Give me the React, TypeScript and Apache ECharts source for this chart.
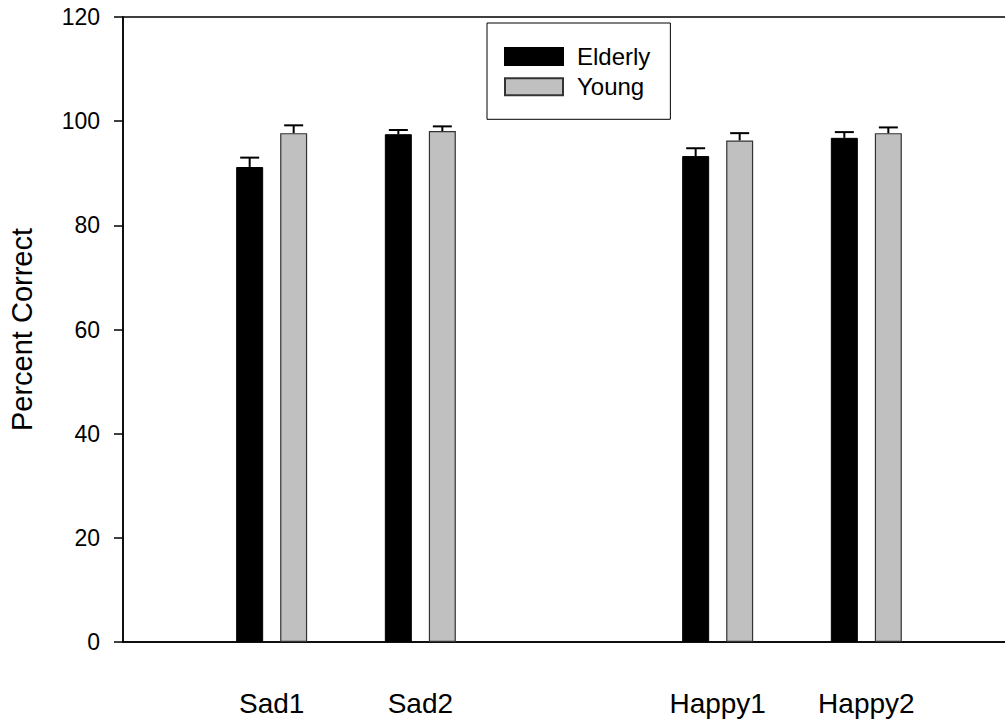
import React, { useEffect, useRef } from "react";
import * as echarts from "echarts";

const categories = ["", "Sad1", "Sad2", "", "Happy1", "Happy2", ""];
const elderly: (number | null)[] = [null, 91.2, 97.5, null, 93.3, 96.8, null];
const elderlyErr: (number | null)[] = [null, 1.8, 0.8, null, 1.5, 1.1, null];
const young: (number | null)[] = [null, 97.7, 98.1, null, 96.3, 97.7, null];
const youngErr: (number | null)[] = [null, 1.5, 0.9, null, 1.4, 1.1, null];
const yMin = 0;
const yMax = 120;
const yStep = 20;

const FONT = "'Liberation Sans', Arial, sans-serif";
const BAR_W = 27;
const BAR_GAP_PX = 17;
const OFFSET = (BAR_W + BAR_GAP_PX) / 2;

function errData(vals: (number | null)[], errs: (number | null)[]) {
  const out: number[][] = [];
  vals.forEach((v, i) => {
    if (v != null && errs[i] != null) out.push([i, v, errs[i] as number]);
  });
  return out;
}

function makeErrRender(offset: number) {
  return (params: any, api: any) => {
    const idx = api.value(0);
    const v = api.value(1);
    const e = api.value(2);
    const base = api.coord([idx, v]);
    const top = api.coord([idx, v + e]);
    const x = base[0] + offset;
    const st = { stroke: "#000", lineWidth: 2 };
    return {
      type: "group",
      children: [
        { type: "line", shape: { x1: x, y1: base[1], x2: x, y2: top[1] }, style: st },
        { type: "line", shape: { x1: x - 9.5, y1: top[1], x2: x + 9.5, y2: top[1] }, style: st },
      ],
    };
  };
}

export default function App() {
  const ref = useRef<HTMLDivElement>(null);
  useEffect(() => {
    if (!ref.current) return;
    const chart = echarts.init(ref.current, null, { renderer: "svg" });
    chart.setOption({
      animation: false,
      backgroundColor: "#fff",
      textStyle: { fontFamily: FONT },
      grid: {
        left: 123,
        width: 892,
        top: 17,
        bottom: 79,
        outerBoundsMode: "none",
        containLabel: false,
        show: true,
        borderColor: "#000",
        borderWidth: 1.5,
        backgroundColor: "transparent",
      },
      legend: {
        orient: "vertical",
        left: 487,
        top: 23,
        padding: [21.5, 20, 20.5, 17],
        itemWidth: 58,
        itemHeight: 17,
        itemGap: 6.3,
        borderColor: "#000",
        borderWidth: 1,
        icon: "rect",
        textStyle: { fontSize: 24, lineHeight: 17, color: "#000", fontFamily: FONT, padding: [0, 0, 0, 9] },
        data: ["Elderly", "Young"],
      },
      xAxis: {
        type: "category",
        data: categories,
        boundaryGap: false,
        axisLine: { lineStyle: { color: "#000", width: 1.5 } },
        axisTick: { show: false },
        axisLabel: { fontSize: 28, color: "#000", margin: 47, fontFamily: FONT, interval: 0 },
        splitLine: { show: false },
      },
      yAxis: {
        type: "value",
        min: yMin,
        max: yMax,
        interval: yStep,
        name: "Percent Correct",
        nameLocation: "middle",
        nameGap: 87,
        nameTextStyle: { fontSize: 29, color: "#000", fontFamily: FONT },
        axisLine: { show: true, lineStyle: { color: "#000", width: 1.5 } },
        axisTick: { show: true, length: 9, lineStyle: { color: "#000", width: 1.5 } },
        axisLabel: { fontSize: 23, color: "#000", margin: 23, fontFamily: FONT },
        splitLine: { show: false },
      },
      series: [
        {
          name: "Elderly",
          type: "bar",
          data: elderly,
          barWidth: BAR_W,
          barGap: (BAR_GAP_PX / BAR_W) * 100 + "%",
          itemStyle: { color: "#000", borderColor: "#000", borderWidth: 1 },
        },
        {
          name: "Young",
          type: "bar",
          data: young,
          barWidth: BAR_W,
          itemStyle: { color: "#c0c0c0", borderColor: "#333", borderWidth: 1.2 },
        },
        {
          type: "custom",
          data: errData(elderly, elderlyErr),
          renderItem: makeErrRender(-OFFSET),
          z: 5,
          silent: true,
        },
        {
          type: "custom",
          data: errData(young, youngErr),
          renderItem: makeErrRender(OFFSET),
          z: 5,
          silent: true,
        },
      ],
    });
    return () => chart.dispose();
  }, []);
  return (
    <div
      ref={ref}
      style={{ position: "fixed", left: 0, top: 0, width: 1005, height: 721 }}
    />
  );
}
